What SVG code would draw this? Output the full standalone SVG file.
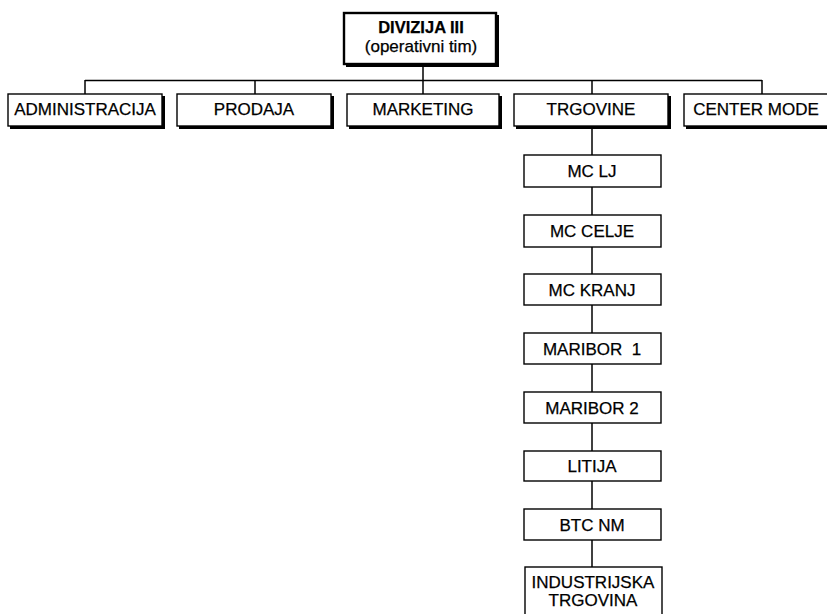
<svg xmlns="http://www.w3.org/2000/svg" width="827" height="614" viewBox="0 0 827 614">
<style>
.t{font-family:"Liberation Sans",Arial,sans-serif;font-size:17px;fill:#000;stroke:#000;stroke-width:0.25;text-anchor:middle}
.b{font-weight:bold;font-size:16.5px}
.box{fill:#fff;stroke:#000;stroke-width:1.4}
.sh{fill:#000}
.c{stroke:#000;stroke-width:1.5;fill:none}
</style>
<rect width="827" height="614" fill="#fff"/>
<g id="connectors">
<line class="c" x1="423" y1="65" x2="423" y2="81"/>
<line class="c" x1="85" y1="80.5" x2="762" y2="80.5"/>
<line class="c" x1="85" y1="80" x2="85" y2="94"/>
<line class="c" x1="255" y1="80" x2="255" y2="94"/>
<line class="c" x1="423" y1="80" x2="423" y2="94"/>
<line class="c" x1="592" y1="80" x2="592" y2="94"/>
<line class="c" x1="762" y1="80" x2="762" y2="94"/>
<line class="c" x1="592" y1="127" x2="592" y2="568"/>
</g>
<g id="divizija">
<rect class="sh" x="346" y="15" width="153" height="52"/>
<rect class="box" x="344" y="13" width="152" height="51" style="stroke-width:2.4"/>
<text class="t b" x="421" y="33">DIVIZIJA III</text>
<text class="t" x="421" y="52">(operativni tim)</text>
</g>
<g id="administracija">
<rect class="sh" x="10" y="96" width="155" height="33"/>
<rect class="box" x="8" y="94" width="154" height="32"/>
<text class="t" x="85" y="115">ADMINISTRACIJA</text>
</g>
<g id="prodaja">
<rect class="sh" x="179" y="96" width="155" height="33"/>
<rect class="box" x="177" y="94" width="154" height="32"/>
<text class="t" x="254" y="115">PRODAJA</text>
</g>
<g id="marketing">
<rect class="sh" x="349" y="96" width="153" height="33"/>
<rect class="box" x="347" y="94" width="152" height="32"/>
<text class="t" x="423" y="115">MARKETING</text>
</g>
<g id="trgovine">
<rect class="sh" x="516" y="96" width="155" height="33"/>
<rect class="box" x="514" y="94" width="154" height="32"/>
<text class="t" x="591" y="115">TRGOVINE</text>
</g>
<g id="center-mode">
<rect class="sh" x="686" y="96" width="160" height="33"/>
<rect class="box" x="684" y="94" width="160" height="32"/>
<text class="t" x="756" y="115">CENTER MODE</text>
</g>
<g id="mc-lj">
<rect class="box" x="524" y="155" width="137" height="32"/>
<text class="t" x="592" y="177">MC LJ</text>
</g>
<g id="mc-celje">
<rect class="box" x="524" y="215" width="137" height="32"/>
<text class="t" x="592" y="237">MC CELJE</text>
</g>
<g id="mc-kranj">
<rect class="box" x="524" y="274" width="137" height="31"/>
<text class="t" x="592" y="296">MC KRANJ</text>
</g>
<g id="maribor-1">
<rect class="box" x="524" y="333" width="137" height="31"/>
<text class="t" x="592" y="355" style="white-space:pre">MARIBOR  1</text>
</g>
<g id="maribor-2">
<rect class="box" x="524" y="392" width="137" height="31"/>
<text class="t" x="592" y="414">MARIBOR 2</text>
</g>
<g id="litija">
<rect class="box" x="524" y="451" width="137" height="30"/>
<text class="t" x="592" y="472">LITIJA</text>
</g>
<g id="btc-nm">
<rect class="box" x="524" y="509" width="137" height="31"/>
<text class="t" x="592" y="531">BTC NM</text>
</g>
<g id="industrijska-trgovina">
<rect class="box" x="525" y="567" width="137" height="60"/>
<text class="t" x="593" y="588">INDUSTRIJSKA</text>
<text class="t" x="593" y="606">TRGOVINA</text>
</g>
</svg>
